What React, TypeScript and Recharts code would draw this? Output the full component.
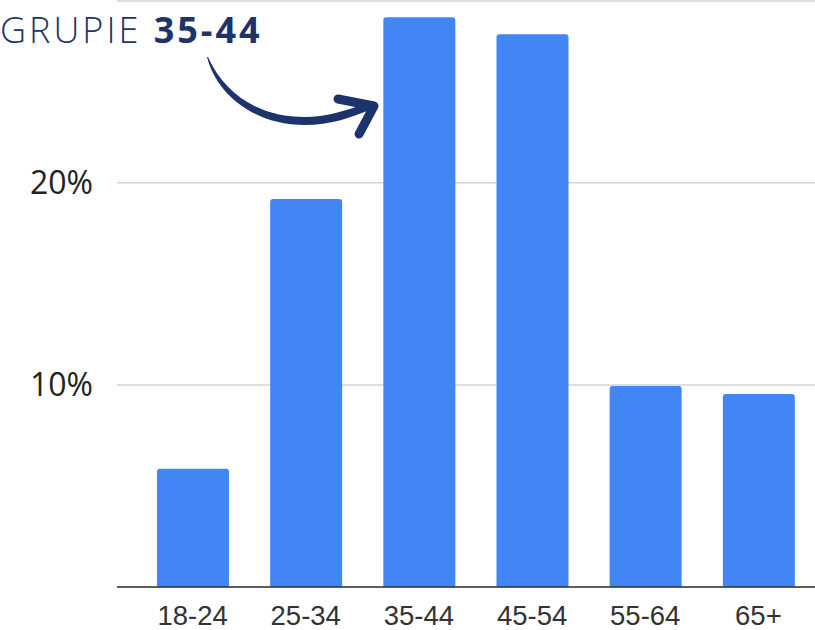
import React from "react";
import { BarChart, Bar, XAxis, YAxis, CartesianGrid } from "recharts";

const categories = ["18-24", "25-34", "35-44", "45-54", "55-64", "65+"];
const shares = [5.85, 19.2, 28.2, 27.35, 9.95, 9.55];
const yTicks = [10, 20];

const data = categories.map((c, i) => ({ age: c, share: shares[i] }));

const NAVY = "#1c336b";

export default function App() {
  return (
    <div style={{ position: "absolute", left: 0, top: 0, width: 815, height: 630, background: "#fff" }}>
      <BarChart
        width={815}
        height={630}
        data={data}
        margin={{ top: 1, right: 0, bottom: 0, left: 0 }}
        barSize={72}
      >
        <CartesianGrid vertical={false} stroke="#d3d3d3" strokeWidth={1.5} />
        <XAxis
          dataKey="age"
          height={43}
          padding={{ left: 19, right: 0 }}
          tickLine={false}
          tickSize={0}
          tickMargin={18}
          axisLine={{ stroke: "#333", strokeWidth: 1.5 }}
          tick={{ fill: "#333", fontSize: 27.5, fontFamily: "Liberation Sans, Arial, sans-serif" }}
          interval={0}
        />
        <YAxis
          width={117}
          domain={[0, 29]}
          ticks={yTicks}
          tickFormatter={(v) => `${v}%`}
          axisLine={false}
          tickLine={false}
          tickSize={0}
          tickMargin={24}
          tick={{ fill: "#222", fontSize: 32, fontFamily: "Open Sans, sans-serif" }}
        />
        <Bar dataKey="share" fill="#4285f4" radius={[3, 3, 0, 0]} isAnimationActive={false} />
      </BarChart>
      <svg
        width={815}
        height={630}
        style={{ position: "absolute", left: 0, top: 0, pointerEvents: "none" }}
      >
        <text
          x={0}
          y={43}
          fill={NAVY}
          fontFamily="Open Sans, sans-serif"
          fontSize={36}
          letterSpacing={3}
        >
          <tspan fontWeight={300}>GRUPIE </tspan>
          <tspan fontWeight={700}>35-44</tspan>
        </text>
        <path
          d="M207,57 C215,90 250,125 305,125 C330,125 350,118 372,109 L370,102 C345,111 325,117 305,117 C260,117 225,95 208,57 Z"
          fill={NAVY}
        />
        <path
          d="M338,99 L374,106 L359,134"
          fill="none"
          stroke={NAVY}
          strokeWidth={9}
          strokeLinecap="round"
          strokeLinejoin="round"
        />
      </svg>
    </div>
  );
}
